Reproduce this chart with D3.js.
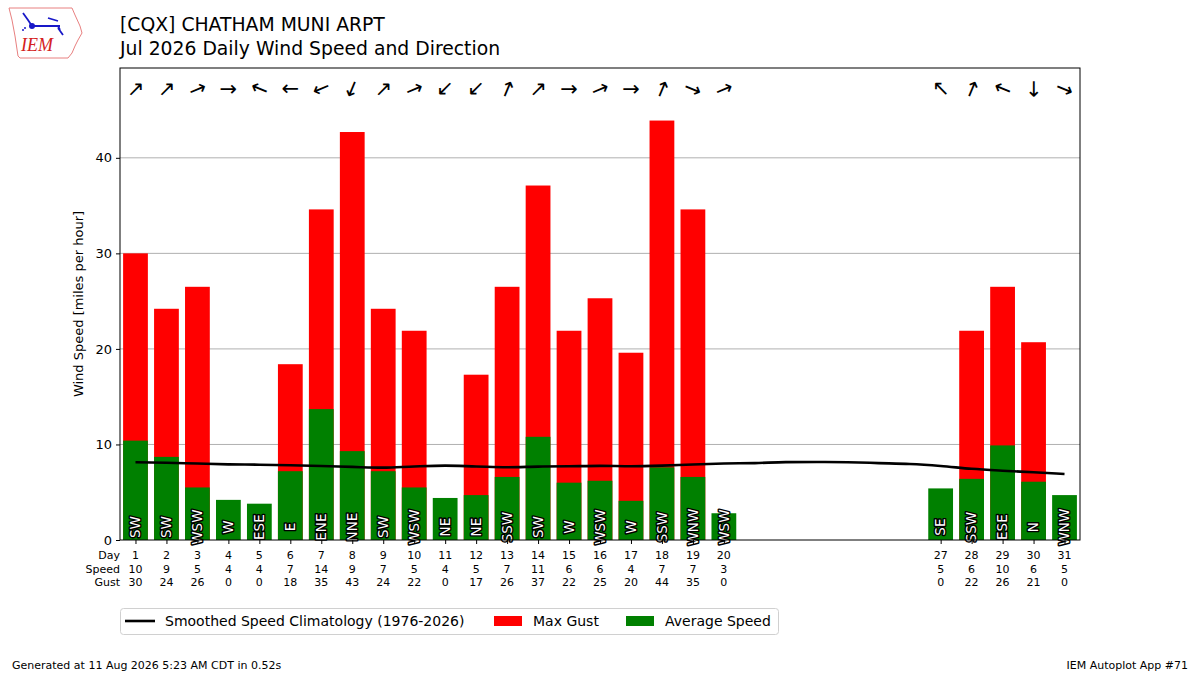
<!DOCTYPE html>
<html>
<head>
<meta charset="utf-8">
<script src="https://cdn.jsdelivr.net/npm/d3@7"></script>
<style>
  body { margin: 0; background: #fff; }
  svg { font-family: "DejaVu Sans", sans-serif; }
</style>
</head>
<body>
<svg width="1200" height="675"></svg>
<script>
// daily values
const days = [1,2,3,4,5,6,7,8,9,10,11,12,13,14,15,16,17,18,19,20,27,28,29,30,31];
const avgSpeed = [10.4,8.7,5.5,4.2,3.8,7.2,13.7,9.3,7.2,5.5,4.4,4.7,6.6,10.8,6.0,6.2,4.1,7.6,6.6,2.8,5.4,6.4,9.9,6.1,4.7];
const maxGust = [30.0,24.2,26.5,0,0,18.4,34.6,42.7,24.2,21.9,0,17.3,26.5,37.1,21.9,25.3,19.6,43.9,34.6,0,0,21.9,26.5,20.7,0];
const speedLabel = [10,9,5,4,4,7,14,9,7,5,4,5,7,11,6,6,4,7,7,3,5,6,10,6,5];
const gustLabel = [30,24,26,0,0,18,35,43,24,22,0,17,26,37,22,25,20,44,35,0,0,22,26,21,0];
const dirLabel = ["SW","SW","WSW","W","ESE","E","ENE","NNE","SW","WSW","NE","NE","SSW","SW","W","WSW","W","SSW","WNW","WSW","SE","SSW","ESE","N","WNW"];

const climoDays = d3.range(1, 32);
const climoSpeed = [8.14,8.08,8.0,7.92,7.88,7.82,7.75,7.65,7.57,7.7,7.78,7.7,7.62,7.68,7.72,7.76,7.72,7.78,7.9,8.0,8.05,8.15,8.17,8.14,8.05,7.96,7.75,7.45,7.25,7.09,6.91];

const yTicks = [0,10,20,30,40];
const compass = ["N","NNE","NE","ENE","E","ESE","SE","SSE","S","SSW","SW","WSW","W","WNW","NW","NNW"];

const data = days.map((d, i) => ({
  day: d, avg: avgSpeed[i], gust: maxGust[i],
  spd: speedLabel[i], gst: gustLabel[i], dir: dirLabel[i]
}));

const margin = {top: 68, right: 120, bottom: 135, left: 120};
const width = 1200, height = 675;

const svg = d3.select("svg");

const x = d3.scaleLinear()
  .domain([0.5, 31.5])
  .range([margin.left, width - margin.right]);

const y = d3.scaleLinear()
  .domain([0, 49.4])
  .range([height - margin.bottom, margin.top]);

const bw = x(1.8) - x(1);   // bar width 0.8 day

// grid
svg.append("g")
  .selectAll("line")
  .data(yTicks.slice(1))
  .join("line")
    .attr("x1", margin.left).attr("x2", width - margin.right)
    .attr("y1", d => y(d)).attr("y2", d => y(d))
    .attr("stroke", "#b0b0b0").attr("stroke-width", 1);

// gust bars then average bars
svg.append("g")
  .selectAll("rect")
  .data(data.filter(d => d.gust > 0))
  .join("rect")
    .attr("x", d => x(d.day) - bw / 2)
    .attr("y", d => y(d.gust))
    .attr("width", bw)
    .attr("height", d => y(0) - y(d.gust))
    .attr("fill", "#ff0000");

svg.append("g")
  .selectAll("rect")
  .data(data)
  .join("rect")
    .attr("x", d => x(d.day) - bw / 2)
    .attr("y", d => y(d.avg))
    .attr("width", bw)
    .attr("height", d => y(0) - y(d.avg))
    .attr("fill", "#008000");

// climatology
const line = d3.line()
  .x((d, i) => x(climoDays[i]))
  .y(d => y(d))
  .curve(d3.curveMonotoneX);

svg.append("path")
  .attr("d", line(climoSpeed))
  .attr("fill", "none")
  .attr("stroke", "#000")
  .attr("stroke-width", 2.6);

// direction labels inside bars
svg.append("g")
  .selectAll("text")
  .data(data)
  .join("text")
    .attr("transform", d => `translate(${x(d.day) + 4.8},${y(1.35)}) rotate(-90)`)
    .attr("text-anchor", "middle")
    .attr("font-size", 13.5)
    .attr("fill", "#fff")
    .attr("stroke", "#000")
    .attr("stroke-width", 2.8)
    .attr("paint-order", "stroke")
    .attr("stroke-linejoin", "round")
    .text(d => d.dir);

// arrows at top, pointing where the wind blows to
svg.append("g")
  .selectAll("text")
  .data(data)
  .join("text")
    .attr("transform", d => {
      const bearing = compass.indexOf(d.dir) * 22.5 + 180;
      return `translate(${x(d.day)},${89}) rotate(${bearing - 90})`;
    })
    .attr("text-anchor", "middle")
    .attr("dominant-baseline", "central")
    .attr("font-size", 21)
    .text("\u2192");

// frame
svg.append("rect")
  .attr("x", margin.left).attr("y", margin.top)
  .attr("width", width - margin.left - margin.right)
  .attr("height", height - margin.top - margin.bottom)
  .attr("fill", "none").attr("stroke", "#000").attr("stroke-width", 1);

// y axis
const yAxis = svg.append("g")
  .attr("transform", `translate(${margin.left},0)`)
  .call(d3.axisLeft(y).tickValues(yTicks).tickSize(4).tickPadding(4))
  .call(g => g.select(".domain").remove());
yAxis.selectAll("text").attr("font-size", 13).attr("font-family", "DejaVu Sans").attr("fill", "#000");

svg.append("text")
  .attr("transform", `translate(83,${(margin.top + height - margin.bottom) / 2}) rotate(-90)`)
  .attr("text-anchor", "middle")
  .attr("font-size", 13)
  .text("Wind Speed [miles per hour]");

// x ticks and table
svg.append("g")
  .attr("transform", `translate(0,${height - margin.bottom})`)
  .call(d3.axisBottom(x).tickValues(days).tickSize(4).tickFormat(""))
  .call(g => g.select(".domain").remove());

const rows = [["Day", d => d.day], ["Speed", d => d.spd], ["Gust", d => d.gst]];
rows.forEach(([name, fn], r) => {
  const yy = 559 + r * 13.5;
  svg.append("text")
    .attr("x", 120).attr("y", yy)
    .attr("text-anchor", "end")
    .attr("font-size", 11)
    .text(name);
  svg.append("g")
    .selectAll("text")
    .data(data)
    .join("text")
      .attr("x", d => x(d.day)).attr("y", yy)
      .attr("text-anchor", "middle")
      .attr("font-size", 11)
      .text(fn);
});

// titles
svg.append("text").attr("x", 120).attr("y", 31).attr("font-size", 18.8)
  .text("[CQX] CHATHAM MUNI ARPT");
svg.append("text").attr("x", 120).attr("y", 55).attr("font-size", 18.8)
  .text("Jul 2026 Daily Wind Speed and Direction");

// legend
const lg = svg.append("g");
lg.append("rect")
  .attr("x", 120.5).attr("y", 608.5).attr("width", 658).attr("height", 26)
  .attr("rx", 3).attr("fill", "#fff").attr("stroke", "#d0d0d0");
lg.append("line").attr("x1", 125).attr("x2", 155).attr("y1", 621).attr("y2", 621)
  .attr("stroke", "#000").attr("stroke-width", 2.6);
lg.append("text").attr("x", 165).attr("y", 626).attr("font-size", 14)
  .text("Smoothed Speed Climatology (1976-2026)");
lg.append("rect").attr("x", 494).attr("y", 616).attr("width", 28).attr("height", 10).attr("fill", "#ff0000");
lg.append("text").attr("x", 533).attr("y", 626).attr("font-size", 14).text("Max Gust");
lg.append("rect").attr("x", 626).attr("y", 616).attr("width", 28).attr("height", 10).attr("fill", "#008000");
lg.append("text").attr("x", 665).attr("y", 626).attr("font-size", 14).text("Average Speed");

// footer
svg.append("text").attr("x", 12).attr("y", 669).attr("font-size", 11)
  .text("Generated at 11 Aug 2026 5:23 AM CDT in 0.52s");
svg.append("text").attr("x", 1188).attr("y", 669).attr("font-size", 11)
  .attr("text-anchor", "end").text("IEM Autoplot App #71");

// logo (rough Iowa outline)
const logo = svg.append("g");
logo.append("path")
  .attr("d", "M9,8 L72,8 L75,15 L80,26 L82,33 L78,40 L75,46 L72,53 L68,58 L20,58 L18,56 L15,36 L12,20 Z")
  .attr("fill", "none").attr("stroke", "#e88080").attr("stroke-width", 1);
logo.append("path")
  .attr("d", "M32,26 L60,26 M23,13 L28,20 L32,26 M48,18 L58,21 M58,26 L60,30 M58,28 L63,35")
  .attr("fill", "none").attr("stroke", "#1818c8").attr("stroke-width", 1.8);
logo.append("circle").attr("cx", 32).attr("cy", 26).attr("r", 3).attr("fill", "#1818c8");
logo.append("circle").attr("cx", 25).attr("cy", 28).attr("r", 1).attr("fill", "#1818c8");
logo.append("circle").attr("cx", 23).attr("cy", 30).attr("r", 1).attr("fill", "#1818c8");
logo.append("text").attr("x", 21).attr("y", 51).attr("font-size", 18)
  .attr("font-family", "Liberation Serif").attr("font-style", "italic")
  .attr("fill", "#d42020").text("IEM");
</script>
</body>
</html>
